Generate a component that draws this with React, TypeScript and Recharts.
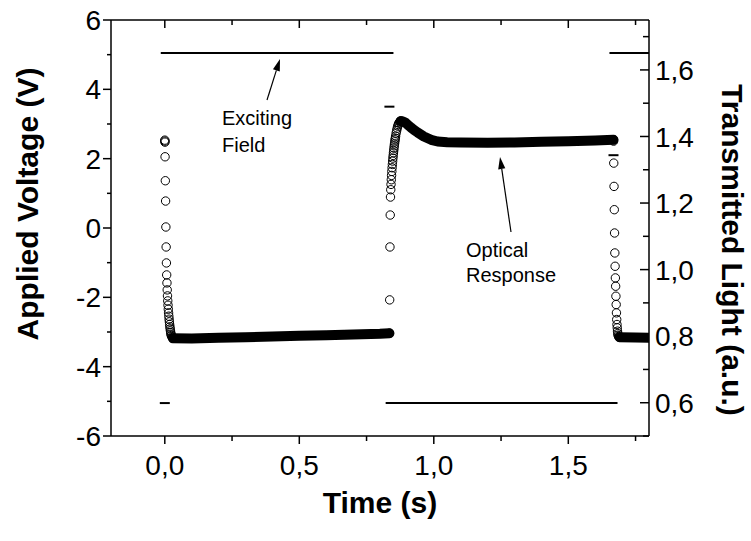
import React from 'react';
import { ScatterChart, Scatter, XAxis, YAxis } from 'recharts';

const FONT = "'Liberation Sans', Arial, sans-serif";

// ---------- tick labels ----------
const timeTicks = [0, 0.25, 0.5, 0.75, 1, 1.25, 1.5, 1.75];
const timeMajor = [0, 0.5, 1, 1.5];
const voltTicks = [-6, -5, -4, -3, -2, -1, 0, 1, 2, 3, 4, 5, 6];
const voltMajor = [-6, -4, -2, 0, 2, 4, 6];
const lightTicks = [0.5, 0.6, 0.7, 0.8, 0.9, 1.0, 1.1, 1.2, 1.3, 1.4, 1.5, 1.6, 1.7];
const lightMajor = [0.6, 0.8, 1.0, 1.2, 1.4, 1.6];

// ---------- exciting field (Applied Voltage, V) ----------
const fieldHighATime = [-0.015, 0.85];
const fieldHighAVolt = [5.05, 5.05];
const fieldLowTime = [0.821, 1.683];
const fieldLowVolt = [-5.05, -5.05];
const fieldHighBTime = [1.653, 1.8];
const fieldHighBVolt = [5.05, 5.05];
const fieldStepTime = [0, 0.835, 1.668];
const fieldStepVolt = [-5.05, 3.5, 2.1];

// ---------- optical response (Transmitted Light, a.u.) ----------
const drop1Time = [0, 0.0003, 0.0006, 0.001, 0.002, 0.003, 0.004, 0.005, 0.006, 0.007, 0.008, 0.009, 0.01, 0.011, 0.012, 0.013, 0.014, 0.015, 0.016, 0.017, 0.018, 0.019, 0.02, 0.021, 0.022, 0.023, 0.024, 0.026, 0.028, 0.03];
const drop1Light = [1.389, 1.386, 1.383, 1.339, 1.267, 1.206, 1.128, 1.068, 1.02, 0.984, 0.96, 0.939, 0.921, 0.906, 0.893, 0.881, 0.87, 0.86, 0.851, 0.843, 0.835, 0.828, 0.822, 0.816, 0.811, 0.806, 0.802, 0.799, 0.796, 0.794];

const band1Time = [0.03, 0.1, 0.2, 0.3, 0.4, 0.5, 0.6, 0.7, 0.8, 0.835];
const band1Light = [0.794, 0.793, 0.795, 0.797, 0.799, 0.801, 0.803, 0.805, 0.807, 0.809];

const rise1Time = [0.835, 0.836, 0.837, 0.838, 0.839, 0.84, 0.841, 0.842, 0.843, 0.844, 0.845, 0.846, 0.847, 0.848, 0.849, 0.85, 0.851, 0.852, 0.853, 0.854, 0.855, 0.856, 0.857, 0.858, 0.86, 0.862, 0.864, 0.866, 0.868, 0.87, 0.873, 0.876, 0.879];
const rise1Light = [0.809, 0.909, 1.068, 1.164, 1.218, 1.24, 1.256, 1.27, 1.283, 1.295, 1.306, 1.316, 1.326, 1.335, 1.343, 1.351, 1.358, 1.365, 1.372, 1.378, 1.384, 1.39, 1.395, 1.401, 1.41, 1.418, 1.425, 1.431, 1.436, 1.44, 1.443, 1.446, 1.447];

const band2Time = [0.876, 0.885, 0.895, 0.905, 0.915, 0.926, 0.94, 0.963, 0.99, 1.014, 1.05, 1.1, 1.2, 1.3, 1.4, 1.5, 1.6, 1.668];
const band2Light = [1.446, 1.445, 1.441, 1.434, 1.427, 1.42, 1.412, 1.4, 1.39, 1.385, 1.383, 1.382, 1.381, 1.382, 1.384, 1.386, 1.388, 1.39];

const drop2Time = [1.668, 1.6683, 1.669, 1.67, 1.671, 1.672, 1.673, 1.674, 1.675, 1.676, 1.677, 1.678, 1.679, 1.68, 1.681, 1.682, 1.683, 1.684, 1.685, 1.687, 1.69];
const drop2Light = [1.39, 1.386, 1.32, 1.25, 1.18, 1.11, 1.05, 1.01, 0.975, 0.95, 0.92, 0.895, 0.87, 0.85, 0.835, 0.825, 0.815, 0.808, 0.803, 0.799, 0.797];

const band3Time = [1.69, 1.75, 1.8];
const band3Light = [0.797, 0.796, 0.795];

const zip = (ts: number[], vs: number[]) => ts.map((t, i) => ({ t, v: vs[i] }));
const isIn = (arr: number[], v: number) => arr.some((m) => Math.abs(m - v) < 1e-6);
const fmt1 = (v: number) => v.toFixed(1).replace('.', ',');

const AX = { stroke: '#000', strokeWidth: 1.5 };

const BottomTick = (p: any) => {
  const { x, y, payload } = p;
  const major = isIn(timeMajor, payload.value);
  return (
    <g>
      <line x1={x} y1={y} x2={x} y2={y + (major ? 8 : 5)} stroke="#000" strokeWidth={1.5} />
      {major && (
        <text x={x} y={y + 39} textAnchor="middle" fontSize={28} fontFamily={FONT} fill="#000">
          {fmt1(payload.value)}
        </text>
      )}
    </g>
  );
};

const TopTick = (p: any) => {
  const { x, y, payload } = p;
  const major = isIn(timeMajor, payload.value);
  return <line x1={x} y1={y} x2={x} y2={y + (major ? 8 : 5)} stroke="#000" strokeWidth={1.5} />;
};

const LeftTick = (p: any) => {
  const { x, y, payload } = p;
  const major = isIn(voltMajor, payload.value);
  return (
    <g>
      <line x1={x} y1={y} x2={x - (major ? 8 : 4)} y2={y} stroke="#000" strokeWidth={1.5} />
      {major && (
        <text x={x - 10} y={y} dy="0.36em" textAnchor="end" fontSize={28} fontFamily={FONT} fill="#000">
          {String(payload.value)}
        </text>
      )}
    </g>
  );
};

const RightTick = (p: any) => {
  const { x, y, payload } = p;
  const major = isIn(lightMajor, payload.value);
  return (
    <g>
      <line x1={x} y1={y} x2={x - (major ? 9 : 6)} y2={y} stroke="#000" strokeWidth={1.5} />
      {major && (
        <text x={x + 6} y={y} dy="0.36em" textAnchor="start" fontSize={28} fontFamily={FONT} fill="#000">
          {fmt1(payload.value)}
        </text>
      )}
    </g>
  );
};

const OpenCircle = (p: any) => (
  <circle cx={p.cx} cy={p.cy} r={4.2} fill="none" stroke="#000" strokeWidth={1} />
);
const Dash = (p: any) => (
  <line x1={p.cx - 5} y1={p.cy} x2={p.cx + 5} y2={p.cy} stroke="#000" strokeWidth={2} />
);
const NoShape = () => <g />;

const Arrow = ({ x1, y1, x2, y2 }: { x1: number; y1: number; x2: number; y2: number }) => {
  const dx = x2 - x1;
  const dy = y2 - y1;
  const len = Math.sqrt(dx * dx + dy * dy);
  const ux = dx / len;
  const uy = dy / len;
  const hl = 12;
  const hw = 3.6;
  const bx = x2 - ux * hl;
  const by = y2 - uy * hl;
  const pts = `${x2},${y2} ${bx - uy * hw},${by + ux * hw} ${bx + uy * hw},${by - ux * hw}`;
  return (
    <g>
      <line x1={x1} y1={y1} x2={bx} y2={by} stroke="#000" strokeWidth={1.2} />
      <polygon points={pts} fill="#000" />
    </g>
  );
};

export default function App() {
  const bandLine = { stroke: '#000', strokeWidth: 10, strokeLinecap: 'round', strokeLinejoin: 'round', fill: 'none' } as any;
  const fieldLine = { stroke: '#000', strokeWidth: 2, fill: 'none' } as any;
  return (
    <div style={{ position: 'absolute', left: 0, top: 0, width: 751, height: 541, background: '#fff' }}>
      <ScatterChart width={751} height={541} margin={{ top: 10, right: 0, bottom: 0, left: 0 }}>
        <XAxis
          xAxisId="b"
          dataKey="t"
          type="number"
          domain={[-0.2, 1.8]}
          allowDataOverflow
          ticks={timeTicks}
          interval={0}
          height={105}
          tickSize={0}
          tickMargin={0}
          tickLine={false}
          axisLine={AX}
          tick={(p: any) => <BottomTick {...p} />}
        />
        <XAxis
          xAxisId="t"
          dataKey="t"
          orientation="top"
          type="number"
          domain={[-0.2, 1.8]}
          allowDataOverflow
          ticks={timeTicks}
          interval={0}
          height={10}
          tickSize={0}
          tickMargin={0}
          tickLine={false}
          axisLine={AX}
          tick={(p: any) => <TopTick {...p} />}
        />
        <YAxis
          yAxisId="L"
          dataKey="v"
          type="number"
          domain={[-6, 6]}
          allowDataOverflow
          ticks={voltTicks}
          interval={0}
          width={111}
          tickSize={0}
          tickMargin={0}
          tickLine={false}
          axisLine={AX}
          tick={(p: any) => <LeftTick {...p} />}
        />
        <YAxis
          yAxisId="R"
          dataKey="v"
          orientation="right"
          type="number"
          domain={[0.5, 1.75]}
          allowDataOverflow
          ticks={lightTicks}
          interval={0}
          width={102}
          tickSize={0}
          tickMargin={0}
          tickLine={false}
          axisLine={AX}
          tick={(p: any) => <RightTick {...p} />}
        />

        <Scatter xAxisId="b" yAxisId="L" data={zip(fieldHighATime, fieldHighAVolt)} line={fieldLine} shape={NoShape} isAnimationActive={false} />
        <Scatter xAxisId="b" yAxisId="L" data={zip(fieldLowTime, fieldLowVolt)} line={fieldLine} shape={NoShape} isAnimationActive={false} />
        <Scatter xAxisId="b" yAxisId="L" data={zip(fieldHighBTime, fieldHighBVolt)} line={fieldLine} shape={NoShape} isAnimationActive={false} />
        <Scatter xAxisId="b" yAxisId="L" data={zip(fieldStepTime, fieldStepVolt)} shape={Dash} isAnimationActive={false} />

        <Scatter xAxisId="b" yAxisId="R" data={zip(band1Time, band1Light)} line={bandLine} shape={NoShape} isAnimationActive={false} />
        <Scatter xAxisId="b" yAxisId="R" data={zip(band2Time, band2Light)} line={bandLine} shape={NoShape} isAnimationActive={false} />
        <Scatter xAxisId="b" yAxisId="R" data={zip(band3Time, band3Light)} line={bandLine} shape={NoShape} isAnimationActive={false} />
        <Scatter xAxisId="b" yAxisId="R" data={zip(drop1Time, drop1Light)} shape={OpenCircle} isAnimationActive={false} />
        <Scatter xAxisId="b" yAxisId="R" data={zip(rise1Time, rise1Light)} shape={OpenCircle} isAnimationActive={false} />
        <Scatter xAxisId="b" yAxisId="R" data={zip(drop2Time, drop2Light)} shape={OpenCircle} isAnimationActive={false} />
      </ScatterChart>

      <svg
        width={751}
        height={541}
        style={{ position: 'absolute', left: 0, top: 0, pointerEvents: 'none' }}
        fontFamily={FONT}
      >
        <text transform="translate(38,204) rotate(-90)" textAnchor="middle" fontSize={30} fontWeight="bold" fill="#000">
          Applied Voltage (V)
        </text>
        <text transform="translate(722,250) rotate(90)" textAnchor="middle" fontSize={30} fontWeight="bold" fill="#000">
          Transmitted Light (a.u.)
        </text>
        <text x={380} y={513} textAnchor="middle" fontSize={30} fontWeight="bold" fill="#000">
          Time (s)
        </text>

        <text x={222} y={125} fontSize={20} fill="#000">Exciting</text>
        <text x={222} y={152} fontSize={20} fill="#000">Field</text>
        <Arrow x1={267} y1={100} x2={280} y2={59} />

        <text x={466} y={257} fontSize={20} fill="#000">Optical</text>
        <text x={466} y={282} fontSize={20} fill="#000">Response</text>
        <Arrow x1={511} y1={232} x2={500} y2={157} />
      </svg>
    </div>
  );
}
